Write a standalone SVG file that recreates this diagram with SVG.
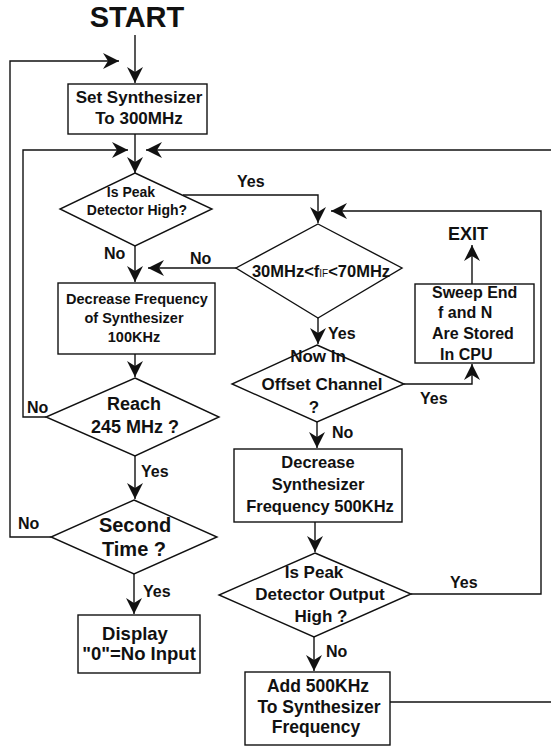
<svg xmlns="http://www.w3.org/2000/svg" width="551" height="749" viewBox="0 0 551 749">
<style>
text{font-family:"Liberation Sans",Arial,sans-serif;font-weight:bold;fill:#111}
.c{text-anchor:middle}
.shape{fill:#fff;stroke:#111;stroke-width:1.4}
.ln{fill:none;stroke:#111;stroke-width:1.4}
.lbl{font-size:16px}
</style>
<defs>
<marker id="ah" viewBox="0 0 16 16" refX="16" refY="8" markerWidth="16" markerHeight="16" markerUnits="userSpaceOnUse" orient="auto">
<path d="M0,0 L16,8 L0,16 L5,8 z" fill="#111"/>
</marker>
</defs>
<rect width="551" height="749" fill="#fff"/>
<g id="connectors">
<line class="ln" x1="135" y1="35" x2="135" y2="83" marker-end="url(#ah)"/>
<polyline class="ln" points="51,537 10,537 10,61 119,61" marker-end="url(#ah)"/>
<line class="ln" x1="135" y1="134" x2="135" y2="173" marker-end="url(#ah)"/>
<polyline class="ln" points="46,417 23,417 23,150 128,150" marker-end="url(#ah)"/>
<line class="ln" x1="551" y1="150" x2="146" y2="150" marker-end="url(#ah)"/>
<polyline class="ln" points="183,195 318,195 318,223" marker-end="url(#ah)"/>
<line class="ln" x1="135" y1="246" x2="135" y2="282" marker-end="url(#ah)"/>
<line class="ln" x1="236" y1="268" x2="148" y2="268" marker-end="url(#ah)"/>
<line class="ln" x1="135" y1="354" x2="135" y2="377" marker-end="url(#ah)"/>
<line class="ln" x1="135" y1="456" x2="135" y2="499" marker-end="url(#ah)"/>
<line class="ln" x1="134" y1="574" x2="134" y2="614" marker-end="url(#ah)"/>
<line class="ln" x1="318" y1="318" x2="318" y2="344" marker-end="url(#ah)"/>
<polyline class="ln" points="404,384 472,384 472,364" marker-end="url(#ah)"/>
<line class="ln" x1="472" y1="284" x2="472" y2="245" marker-end="url(#ah)"/>
<line class="ln" x1="317" y1="422" x2="317" y2="448" marker-end="url(#ah)"/>
<line class="ln" x1="315" y1="522" x2="315" y2="552" marker-end="url(#ah)"/>
<polyline class="ln" points="411,594 541,594 541,211 331,211" marker-end="url(#ah)"/>
<line class="ln" x1="314" y1="637" x2="314" y2="671" marker-end="url(#ah)"/>
<line class="ln" x1="390" y1="702" x2="551" y2="702"/>
<text class="lbl" x="237" y="187">Yes</text>
<text class="lbl" x="104" y="259">No</text>
<text class="lbl" x="190" y="264">No</text>
<text class="lbl" x="27" y="413">No</text>
<text class="lbl" x="141" y="477">Yes</text>
<text class="lbl" x="18" y="529">No</text>
<text class="lbl" x="143" y="597">Yes</text>
<text class="lbl" x="328" y="339">Yes</text>
<text class="lbl" x="420" y="404">Yes</text>
<text class="lbl" x="332" y="438">No</text>
<text class="lbl" x="450" y="588">Yes</text>
<text class="lbl" x="326" y="657">No</text>
</g>
<g id="start"><text class="c" x="137" y="27" font-size="29">START</text></g>
<g id="exit"><text class="c" x="468" y="240" font-size="18">EXIT</text></g>
<g id="set300">
<rect class="shape" x="68" y="84" width="139" height="50"/>
<text class="c" x="139" y="103" font-size="17">Set Synthesizer</text>
<text class="c" x="139" y="124" font-size="17">To 300MHz</text>
</g>
<g id="peak1">
<polygon class="shape" points="135,173 212,209 135,246 60,209"/>
<text class="c" x="131" y="197" font-size="14">Is  Peak</text>
<text class="c" x="137" y="215" font-size="14">Detector High?</text>
</g>
<g id="dec100">
<rect class="shape" x="58" y="283" width="157" height="71"/>
<text class="c" x="137" y="304" font-size="14.5">Decrease Frequency</text>
<text class="c" x="134" y="323" font-size="14.5">of Synthesizer</text>
<text class="c" x="134" y="342" font-size="14.5">100KHz</text>
</g>
<g id="reach">
<polygon class="shape" points="135,378 219,417 135,456 46,417"/>
<text class="c" x="134" y="410" font-size="18">Reach</text>
<text class="c" x="135" y="433" font-size="18">245 MHz ?</text>
</g>
<g id="second">
<polygon class="shape" points="134,500 217,537 134,574 51,537"/>
<text class="c" x="135" y="532" font-size="20">Second</text>
<text class="c" x="134" y="556" font-size="20">Time  ?</text>
</g>
<g id="display">
<rect class="shape" x="78" y="615" width="122" height="58"/>
<text class="c" x="135" y="640" font-size="18.5">Display</text>
<text class="c" x="139" y="660" font-size="18.5">"0"=No Input</text>
</g>
<g id="range">
<polygon class="shape" points="318,224 402,268 318,318 236,268"/>
<text class="c" x="321" y="277" font-size="16.5">30MHz&lt;f<tspan font-size="10" font-weight="normal">IF</tspan>&lt;70MHz</text>
</g>
<g id="sweep">
<rect class="shape" x="415" y="284" width="119" height="79"/>
<text x="432" y="298" font-size="16">Sweep End</text>
<text x="438" y="318" font-size="16">f and N</text>
<text x="432" y="339" font-size="16">Are Stored</text>
<text x="440" y="360" font-size="16">In CPU</text>
</g>
<g id="offset">
<polygon class="shape" points="317,345 404,384 317,422 232,384"/>
<text class="c" x="318" y="362" font-size="17">Now In</text>
<text class="c" x="322" y="390" font-size="17">Offset Channel</text>
<text class="c" x="314" y="413" font-size="17">?</text>
</g>
<g id="dec500">
<rect class="shape" x="234" y="449" width="168" height="73"/>
<text class="c" x="318" y="468" font-size="16.5">Decrease</text>
<text class="c" x="318" y="490" font-size="16.5">Synthesizer</text>
<text class="c" x="320" y="512" font-size="16.5">Frequency 500KHz</text>
</g>
<g id="peak2">
<polygon class="shape" points="315,553 411,594 314,637 219,595"/>
<text class="c" x="314" y="578" font-size="17">Is  Peak</text>
<text class="c" x="320" y="600" font-size="17">Detector Output</text>
<text class="c" x="321" y="622" font-size="17">High ?</text>
</g>
<g id="add500">
<rect class="shape" x="245" y="672" width="145" height="73"/>
<text class="c" x="318" y="692" font-size="17.5">Add 500KHz</text>
<text class="c" x="319" y="713" font-size="17.5">To Synthesizer</text>
<text class="c" x="316" y="733" font-size="17.5">Frequency</text>
</g>
</svg>
